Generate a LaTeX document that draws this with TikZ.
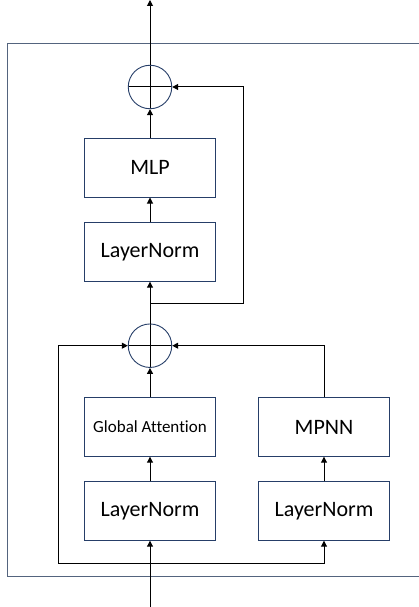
\documentclass[tikz,border=0pt]{standalone}
\usepackage{fontspec}
\setmainfont{Carlito}[Ligatures={NoCommon}]
\usepackage{tikz}
\usepackage{xcolor}
\usetikzlibrary{arrows.meta}
\definecolor{boxblue}{RGB}{38,62,104}
\definecolor{frameblue}{RGB}{84,100,126}
\tikzset{
  blockbox/.style={draw=boxblue,line width=0.9pt,minimum width=131.5pt,minimum height=58.5pt,inner sep=0pt,font=\fontsize{22}{24}\selectfont},
  addcirc/.style={draw=boxblue,line width=0.9pt,circle,minimum size=43.5pt,inner sep=0pt,
    path picture={\draw[black,line width=1pt] (path picture bounding box.north) -- (path picture bounding box.south)
      (path picture bounding box.west) -- (path picture bounding box.east);}},
  flow/.style={line width=1pt,-{Triangle[length=6pt,width=6pt]}}
}
\begin{document}
\begin{tikzpicture}[x=1pt,y=-1pt]
\useasboundingbox (0,0) rectangle (419,607);
\draw[frameblue,line width=1pt] (7,43.5) rectangle (440,576.7);
\coordinate (out) at (150,0);
\coordinate (in) at (150,607);
\node[addcirc] (add2) at (150,87) {};
\node[blockbox] (mlp) at (150,167.8) {MLP};
\node[blockbox] (ln1) at (150,252) {LayerNorm};
\node[addcirc] (add1) at (150,345.7) {};
\node[blockbox,font=\fontsize{17}{19}\selectfont] (ga) at (150,427) {Global Attention};
\node[blockbox] (mpnn) at (324,427) {MPNN};
\node[blockbox] (ln2) at (150,511) {LayerNorm};
\node[blockbox] (ln3) at (324,511) {LayerNorm};
\coordinate (split1) at (150,303.7);
\coordinate (split0) at (150,563.3);
\draw[flow] (in) -- (ln2);
\draw[flow] (ln2) -- (ga);
\draw[flow] (ga) -- (add1);
\draw[flow] (split0) -| (ln3);
\draw[flow] (ln3) -- (mpnn);
\draw[flow] (mpnn.north) |- (add1.east);
\draw[flow] (split0) -- (58,563.3) |- (add1.west);
\draw[flow] (add1) -- (ln1);
\draw[flow] (ln1) -- (mlp);
\draw[flow] (mlp) -- (add2);
\draw[flow] (split1) -- (243,303.7) |- (add2.east);
\draw[flow] (add2) -- (out);
\end{tikzpicture}
\end{document}
